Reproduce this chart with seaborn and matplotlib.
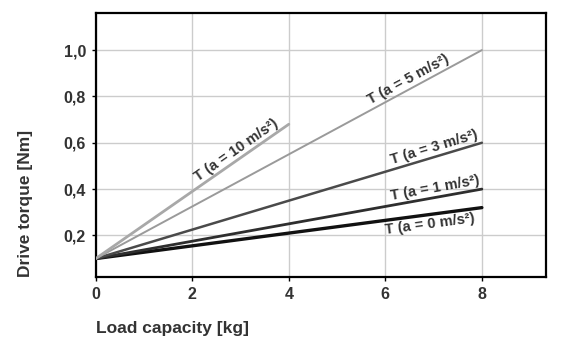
import numpy as np
import pandas as pd
import matplotlib
matplotlib.use("Agg")
import matplotlib.pyplot as plt
import seaborn as sns

# data
accel = ["0", "1", "3", "5", "10"]
load_start = [0, 0, 0, 0, 0]
load_end = [8, 8, 8, 8, 4]
torque_start = [0.10, 0.10, 0.10, 0.10, 0.10]
torque_end = [0.32, 0.40, 0.60, 1.00, 0.68]
labels = ["T (a = 0 m/s²)", "T (a = 1 m/s²)", "T (a = 3 m/s²)",
          "T (a = 5 m/s²)", "T (a = 10 m/s²)"]
label_x = [6.9, 7.05, 7.05, 6.55, 3.0]

colors = ["#111111", "#2e2e2e", "#4a4a4a", "#9a9a9a", "#a8a8a8"]
widths = [2.4, 2.0, 1.8, 1.4, 2.0]

rows = []
for a, x0, x1, y0, y1 in zip(accel, load_start, load_end, torque_start, torque_end):
    rows.append({"accel": a, "load": x0, "torque": y0})
    rows.append({"accel": a, "load": x1, "torque": y1})
df = pd.DataFrame(rows)

sns.set_style("white")
plt.rcParams['font.family'] = ['Liberation Sans', 'DejaVu Sans']

fig = plt.figure(figsize=(5.7, 3.53), dpi=100)
ax = fig.add_axes([0.168, 0.215, 0.79, 0.748])

for i, a in enumerate(accel):
    sub = df[df["accel"] == a]
    sns.lineplot(data=sub, x="load", y="torque", ax=ax, color=colors[i],
                 linewidth=widths[i], zorder=3, legend=False)

ax.set_xlim(0, 9.33)
ax.set_ylim(0.02, 1.16)
ax.set_xticks([0, 2, 4, 6, 8])
ax.set_yticks([0.2, 0.4, 0.6, 0.8, 1.0])
ax.set_yticklabels(["0,2", "0,4", "0,6", "0,8", "1,0"])
ax.grid(True, color="#cccccc", linewidth=1.0, zorder=0)
ax.set_axisbelow(True)

for sp in ax.spines.values():
    sp.set_color("black")
    sp.set_linewidth(1.6)

ax.tick_params(axis="both", direction="out", length=3, width=1, color="black",
               labelsize=11.5, labelcolor="#333333", pad=4, left=True, bottom=True)
for lab in ax.get_xticklabels() + ax.get_yticklabels():
    lab.set_fontweight("bold")

# line labels, rotated along each line
for i in range(len(accel)):
    slope = (torque_end[i] - torque_start[i]) / (load_end[i] - load_start[i])
    xl = label_x[i]
    yl = torque_start[i] + slope * (xl - load_start[i])
    ang = np.degrees(np.arctan(slope))
    if accel[i] == "0":
        va, dy = "top", -0.012
    else:
        va, dy = "bottom", 0.010
    ax.text(xl, yl + dy, labels[i], rotation=ang, rotation_mode="anchor",
            transform_rotates_text=True, ha="center", va=va,
            fontsize=10.5, fontweight="bold", color="#333333", zorder=4)

ax.set_xlabel("Load capacity [kg]", fontsize=12.5, fontweight="bold",
              color="#333333", loc="left")
ax.set_ylabel("Drive torque [Nm]", fontsize=12.5, fontweight="bold",
              color="#333333", loc="bottom")
ax.xaxis.set_label_coords(0.0, -0.165)
ax.yaxis.set_label_coords(-0.14, 0.0)

fig.savefig("out.png", dpi=100)
